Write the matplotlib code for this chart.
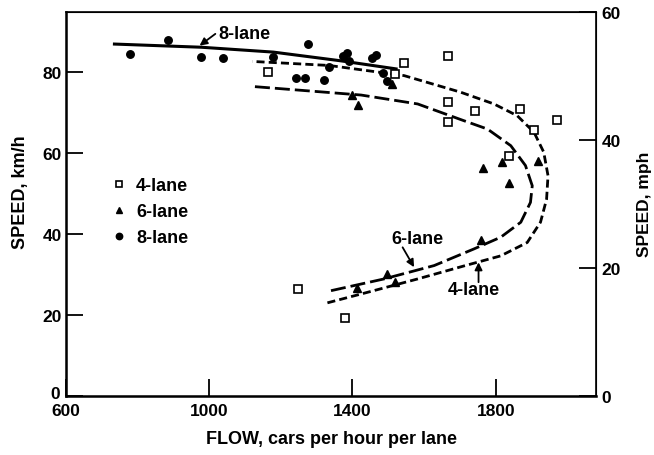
import matplotlib
matplotlib.use("Agg")
import matplotlib.pyplot as plt
from matplotlib.transforms import ScaledTranslation

plt.rcParams['font.family'] = ['Liberation Sans', 'DejaVu Sans']
plt.rcParams['font.weight'] = 'bold'

# Observed flow (cars/h/lane) and speed (km/h) by freeway width
flow_4lane = [1164, 1520, 1544, 1667, 1668, 1668, 1741, 1867, 1972, 1908, 1838, 1247, 1379]
speed_4lane = [79.9, 79.4, 82.3, 84.0, 72.6, 67.6, 70.4, 70.9, 68.1, 65.6, 59.2, 26.4, 19.3]

flow_6lane = [1400, 1416, 1509, 1764, 1817, 1838, 1918, 1759, 1495, 1412, 1519]
speed_6lane = [74.3, 71.9, 77.0, 56.2, 57.7, 52.6, 57.9, 38.4, 30.0, 26.6, 28.1]

flow_8lane = [780, 885, 978, 1039, 1179, 1276, 1335, 1242, 1267, 1321,
              1373, 1385, 1391, 1454, 1465, 1485, 1495]
speed_8lane = [84.5, 87.8, 83.8, 83.5, 83.6, 87.0, 81.2, 78.5, 78.5, 77.9,
               84.0, 84.6, 82.6, 83.4, 84.2, 79.8, 77.7]

# Fitted speed-flow curves
curve8_flow = [731, 978, 1179, 1363, 1526]
curve8_speed = [86.9, 86.1, 84.9, 82.8, 80.7]

curve4_flow = [1330, 1442, 1582, 1715, 1814, 1888, 1925, 1942, 1946, 1934,
               1907, 1860, 1795, 1702, 1544, 1335, 1120]
curve4_speed = [23.0, 25.6, 28.9, 32.2, 34.6, 37.9, 42.9, 48.6, 54.4, 60.2,
                65.1, 69.2, 72.1, 75.0, 79.1, 81.6, 82.6]

curve6_flow = [1340, 1488, 1628, 1739, 1814, 1870, 1897, 1902, 1883, 1842,
               1777, 1710, 1582, 1424, 1123]
curve6_speed = [26.0, 28.9, 32.2, 36.3, 39.2, 42.9, 47.8, 51.9, 56.9, 61.8,
                65.9, 68.0, 72.1, 74.3, 76.4]

x_ticks = [600, 1000, 1400, 1800]
kmh_ticks = [0, 20, 40, 60, 80]
mph_ticks = [0, 20, 40, 60]

FS = 13
TFS = 12.5

fig = plt.figure(figsize=(6.54, 4.56), dpi=100)
ax = fig.add_axes([66 / 654, 59 / 456, 530 / 654, 384 / 456])

ax.plot(curve8_flow, curve8_speed, color='black', lw=2.2, solid_capstyle='butt')
ax.plot(curve4_flow, curve4_speed, color='black', lw=2.0, dashes=(2.9, 1.5))
ax.plot(curve6_flow, curve6_speed, color='black', lw=2.0, dashes=(5.4, 1.8))

ax.plot(flow_4lane, speed_4lane, ls='none', marker='s', ms=5.4, mfc='white',
        mec='black', mew=1.2, label='4-lane')
ax.plot(flow_6lane, speed_6lane, ls='none', marker='^', ms=5.8, color='black',
        label='6-lane')
ax.plot(flow_8lane, speed_8lane, ls='none', marker='o', ms=5.4, color='black',
        label='8-lane')

ax.set_xlim(600, 2080)
ax.set_ylim(0, 94.8)
ax.set_xticks(x_ticks)
ax.set_yticks(kmh_ticks)
ax.tick_params(direction='in', length=12, width=1.3, labelsize=TFS)
ax.tick_params(axis='x', pad=5)
ax.tick_params(axis='y', pad=3)
for lab in ax.get_xticklabels() + ax.get_yticklabels():
    lab.set_fontweight('bold')
# lift the zero label clear of the 600 label below it
zero_lab = ax.get_yticklabels()[0]
zero_lab.set_transform(zero_lab.get_transform() + ScaledTranslation(-2 / 100, 4 / 100, fig.dpi_scale_trans))

for side in ('left', 'bottom'):
    ax.spines[side].set_linewidth(1.8)
for side in ('right', 'top'):
    ax.spines[side].set_linewidth(1.2)

ax.set_xlabel('FLOW, cars per hour per lane', fontsize=FS, fontweight='bold', labelpad=9)
ax.set_ylabel('SPEED, km/h', fontsize=FS, fontweight='bold')
ax.yaxis.set_label_coords(-0.070, 0.534)

ax2 = ax.twinx()
ax2.set_ylim(0, 60)
ax2.set_yticks(mph_ticks)
ax2.tick_params(direction='in', length=12, width=1.3, labelsize=TFS, pad=4)
for lab in ax2.get_yticklabels():
    lab.set_fontweight('bold')
ax2.set_ylabel('SPEED, mph', fontsize=12.5, fontweight='bold')
ax2.yaxis.set_label_coords(1.077, 0.501)

leg = ax.legend(loc='center left', bbox_to_anchor=(0.066, 0.48), frameon=False,
                fontsize=FS, handlelength=1.0, handletextpad=0.45,
                labelspacing=0.5, borderpad=0, markerscale=0.85)
for t in leg.get_texts():
    t.set_fontweight('bold')

arrow = dict(arrowstyle='-|>', color='black', lw=1.3, mutation_scale=11,
             shrinkA=0, shrinkB=0)
ax.text(1098, 89.4, '8-lane', fontsize=FS, fontweight='bold', ha='center', va='center')
ax.annotate('', xy=(973, 86.5), xytext=(1017, 89.4), arrowprops=arrow)

ax.text(1582, 38.8, '6-lane', fontsize=FS, fontweight='bold', ha='center', va='center')
ax.annotate('', xy=(1572, 31.8), xytext=(1540, 36.7), arrowprops=arrow)

ax.text(1739, 26.4, '4-lane', fontsize=FS, fontweight='bold', ha='center', va='center')
ax.annotate('', xy=(1752, 33.0), xytext=(1752, 28.1), arrowprops=arrow)

fig.savefig('out.png', dpi=100)
